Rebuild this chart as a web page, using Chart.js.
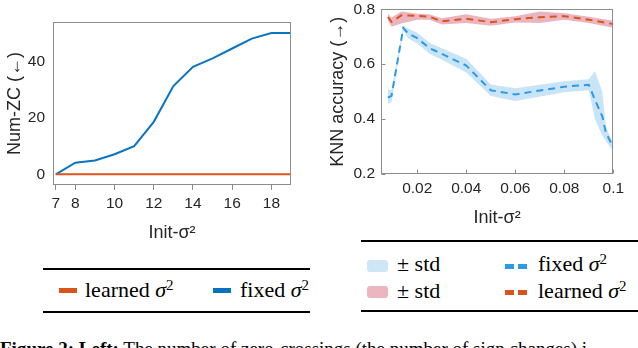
<!DOCTYPE html>
<html><head><meta charset="utf-8">
<script src="https://cdn.jsdelivr.net/npm/chart.js@4.4.1/dist/chart.umd.min.js"></script>
<style>
html,body{margin:0;padding:0;background:#fff;width:638px;height:348px;overflow:hidden;position:relative;}
canvas{position:absolute;}
.rule{position:absolute;background:#000;height:2px;}
.lg{position:absolute;font-family:'Liberation Serif','Times New Roman',serif;font-size:22px;line-height:22px;color:#000;white-space:nowrap;}
.sp{position:relative;top:-0.45em;font-size:0.68em;}
.sw{position:absolute;}
.cap{position:absolute;left:0;top:339px;font-family:'Liberation Serif','Times New Roman',serif;font-size:19px;line-height:19px;color:#000;white-space:nowrap;}
</style></head><body>
<canvas id="c1" width="310" height="250" style="left:0;top:0;width:310px;height:250px"></canvas>
<canvas id="c2" width="318" height="246" style="left:320px;top:-6px;width:318px;height:246px"></canvas>

<div class="rule" style="left:43px;top:268px;width:267px"></div>
<div class="rule" style="left:43px;top:311px;width:267px"></div>
<div class="sw" style="left:59px;top:288px;width:18px;height:5px;background:#d9531c"></div>
<div class="lg" style="left:85px;top:279px">learned <i>σ</i><span class="sp">2</span></div>
<div class="sw" style="left:213px;top:288px;width:18px;height:5px;background:#0a72bd"></div>
<div class="lg" style="left:240px;top:279px">fixed <i>σ</i><span class="sp">2</span></div>

<div class="rule" style="left:361px;top:240px;width:277px"></div>
<div class="rule" style="left:361px;top:310px;width:277px"></div>
<div class="sw" style="left:367px;top:260px;width:21px;height:12px;border-radius:3px;background:#cfe6f7"></div>
<div class="lg" style="left:397px;top:253px">± std</div>
<div class="sw" style="left:505px;top:264px;width:9px;height:5px;background:#2a9be8"></div>
<div class="sw" style="left:518px;top:264px;width:9px;height:5px;background:#2a9be8"></div>
<div class="lg" style="left:538px;top:253px">fixed <i>σ</i><span class="sp">2</span></div>
<div class="sw" style="left:367px;top:286px;width:21px;height:12px;border-radius:3px;background:#ebb6c0"></div>
<div class="lg" style="left:397px;top:280px">± std</div>
<div class="sw" style="left:505px;top:290px;width:9px;height:5px;background:#d9531c"></div>
<div class="sw" style="left:518px;top:290px;width:9px;height:5px;background:#d9531c"></div>
<div class="lg" style="left:538px;top:280px">learned <i>σ</i><span class="sp">2</span></div>

<div class="cap"><b>Figure 2: Left:</b> The number of zero-crossings (the number of sign changes) i</div>

<script>
// ---- Left chart data ----
const ZC_X = [7, 8, 9, 10, 11, 12, 13, 14, 15, 16, 17, 18, 19];
const ZC_FIXED = [0, 4.1, 4.9, 7.1, 10.0, 18.6, 31.3, 38.1, 41.1, 44.6, 48.1, 50.1, 50.1];
const ZC_LEARNED = [0, 0, 0, 0, 0, 0, 0, 0, 0, 0, 0, 0, 0];
const ZC_X_TICKS = [7, 8, 10, 12, 14, 16, 18];
const ZC_Y_TICKS = [0, 20, 40];

// ---- Right chart data ----
const KNN_FIXED_X  = [0.008, 0.0095, 0.0143, 0.0163, 0.02, 0.025, 0.03, 0.04, 0.05, 0.06, 0.08, 0.09, 0.0925, 0.0955, 0.097, 0.1];
const KNN_FIXED    = [0.478, 0.485, 0.732, 0.712, 0.695, 0.658, 0.638, 0.595, 0.505, 0.490, 0.518, 0.525, 0.470, 0.410, 0.350, 0.297];
const KNN_FIXED_UP = [0.508, 0.505, 0.740, 0.730, 0.715, 0.678, 0.658, 0.620, 0.526, 0.512, 0.538, 0.545, 0.575, 0.500, 0.370, 0.310];
const KNN_FIXED_LO = [0.455, 0.462, 0.722, 0.694, 0.675, 0.638, 0.616, 0.570, 0.484, 0.466, 0.498, 0.505, 0.400, 0.340, 0.320, 0.282];
const KNN_LEARNED_X  = [0.008, 0.0095, 0.0135, 0.02, 0.025, 0.03, 0.04, 0.05, 0.06, 0.07, 0.08, 0.09, 0.1];
const KNN_LEARNED    = [0.772, 0.754, 0.778, 0.776, 0.773, 0.756, 0.766, 0.753, 0.764, 0.771, 0.775, 0.762, 0.746];
const KNN_LEARNED_UP = [0.784, 0.770, 0.792, 0.784, 0.782, 0.767, 0.782, 0.766, 0.775, 0.792, 0.786, 0.773, 0.758];
const KNN_LEARNED_LO = [0.760, 0.736, 0.748, 0.762, 0.762, 0.745, 0.750, 0.740, 0.752, 0.750, 0.762, 0.750, 0.733];
const KNN_X_TICKS = [0.02, 0.04, 0.06, 0.08, 0.1];
const KNN_Y_TICKS = [0.2, 0.4, 0.6, 0.8];

const pts = (xs, ys) => xs.map((x, i) => ({x: x, y: ys[i]}));
const TXT = '#262626';
const FRAME = '#8c8c8c';
const tickFont = {family: "'Liberation Sans', Arial, sans-serif", size: 15.5};
const titleFont = {family: "'Liberation Sans', Arial, sans-serif", size: 18};

const framePlugin = {
  id: 'frame',
  afterDatasetsDraw(chart, args, opts) {
    const {ctx, chartArea: a} = chart;
    ctx.save();
    ctx.strokeStyle = FRAME;
    ctx.lineWidth = 1;
    const l = Math.round(a.left) + 0.5, t = Math.round(a.top) + 0.5;
    const r = Math.round(a.right) - 0.5, b = Math.round(a.bottom) - 0.5;
    ctx.strokeRect(l, t, r - l, b - t);
    if (opts && opts.inner) {
      ctx.beginPath();
      chart.scales.x.ticks.forEach(tk => {
        const px = Math.round(chart.scales.x.getPixelForValue(tk.value)) + 0.5;
        ctx.moveTo(px, b); ctx.lineTo(px, b - 4);
      });
      chart.scales.y.ticks.forEach(tk => {
        const py = Math.round(chart.scales.y.getPixelForValue(tk.value)) + 0.5;
        ctx.moveTo(l, py); ctx.lineTo(l + 4, py);
      });
      ctx.stroke();
    }
    ctx.restore();
  }
};

new Chart(document.getElementById('c1'), {
  type: 'line',
  data: {
    datasets: [
      {data: pts(ZC_X, ZC_LEARNED), borderColor: '#e0531c', borderWidth: 2, pointRadius: 0, fill: false, tension: 0},
      {data: pts(ZC_X, ZC_FIXED), borderColor: '#0a74c2', borderWidth: 2, pointRadius: 0, fill: false, tension: 0}
    ]
  },
  options: {
    responsive: false, animation: false, devicePixelRatio: 1,
    layout: {padding: {top: 22, right: 19, left: 0, bottom: 0}},
    plugins: {legend: {display: false}, tooltip: {enabled: false}, frame: {inner: false}},
    scales: {
      x: {
        type: 'linear', min: 6.86, max: 19,
        afterBuildTicks: s => { s.ticks = ZC_X_TICKS.map(v => ({value: v})); },
        afterFit: s => { s.height = 65; },
        ticks: {autoSkip: false, maxRotation: 0, color: TXT, font: tickFont, padding: 4},
        grid: {drawOnChartArea: false, drawTicks: true, tickLength: 5, color: FRAME},
        border: {display: false},
        title: {display: true, text: 'Init-σ²', color: TXT, font: titleFont, padding: {top: 0, bottom: 6}}
      },
      y: {
        min: -3.8, max: 54,
        afterBuildTicks: s => { s.ticks = ZC_Y_TICKS.map(v => ({value: v})); },
        afterFit: s => { s.width = 53; },
        ticks: {color: TXT, font: tickFont, padding: 8},
        grid: {drawOnChartArea: false, drawTicks: false},
        border: {display: false},
        title: {display: true, text: 'Num-ZC (←)', color: TXT, font: titleFont, padding: {top: 4, bottom: 0}}
      }
    }
  },
  plugins: [framePlugin]
});

new Chart(document.getElementById('c2'), {
  type: 'line',
  data: {
    datasets: [
      {data: pts(KNN_LEARNED_X, KNN_LEARNED), borderColor: '#d9531c', borderWidth: 2, borderDash: [7, 5], pointRadius: 0, fill: false, tension: 0},
      {data: pts(KNN_FIXED_X, KNN_FIXED), borderColor: '#2a9be8', borderWidth: 2, borderDash: [7, 5], pointRadius: 0, fill: false, tension: 0},
      {data: pts(KNN_LEARNED_X, KNN_LEARNED_UP), borderColor: 'transparent', borderWidth: 0, backgroundColor: 'rgba(226,150,165,0.7)', pointRadius: 0, fill: '+1', tension: 0},
      {data: pts(KNN_LEARNED_X, KNN_LEARNED_LO), borderColor: 'transparent', borderWidth: 0, pointRadius: 0, fill: false, tension: 0},
      {data: pts(KNN_FIXED_X, KNN_FIXED_UP), borderColor: 'transparent', borderWidth: 0, backgroundColor: '#c9e4f6', pointRadius: 0, fill: '+1', tension: 0},
      {data: pts(KNN_FIXED_X, KNN_FIXED_LO), borderColor: 'transparent', borderWidth: 0, pointRadius: 0, fill: false, tension: 0}
    ]
  },
  options: {
    responsive: false, animation: false, devicePixelRatio: 1,
    layout: {padding: {top: 13.3, right: 24.7, left: 0, bottom: 0}},
    plugins: {legend: {display: false}, tooltip: {enabled: false}, frame: {inner: true}},
    scales: {
      x: {
        type: 'linear', min: 0.0052, max: 0.1,
        afterBuildTicks: s => { s.ticks = KNN_X_TICKS.map(v => ({value: v})); },
        afterFit: s => { s.height = 66; },
        ticks: {autoSkip: false, maxRotation: 0, color: TXT, font: tickFont, padding: 5,
                callback: v => String(Number(v.toFixed(3)))},
        grid: {drawOnChartArea: false, drawTicks: false},
        border: {display: false},
        title: {display: true, text: 'Init-σ²', color: TXT, font: titleFont, padding: {top: 0, bottom: 11}}
      },
      y: {
        min: 0.2, max: 0.8,
        afterBuildTicks: s => { s.ticks = KNN_Y_TICKS.map(v => ({value: v})); },
        afterFit: s => { s.width = 61; },
        ticks: {color: TXT, font: tickFont, padding: 6, callback: v => v.toFixed(1)},
        grid: {drawOnChartArea: false, drawTicks: false},
        border: {display: false},
        title: {display: true, text: 'KNN accuracy (→)', color: TXT, font: titleFont, padding: {top: 7, bottom: 0}}
      }
    }
  },
  plugins: [framePlugin]
});
</script>
</body></html>
